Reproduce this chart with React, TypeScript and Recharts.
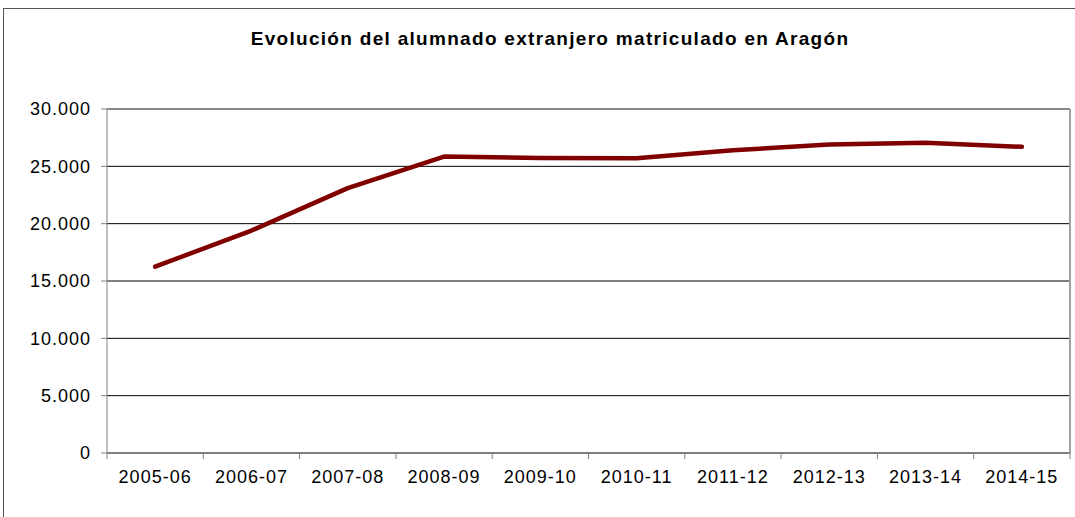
import React from 'react';
import {
  LineChart,
  Line,
  XAxis,
  YAxis,
  CartesianGrid,
  ReferenceLine,
} from 'recharts';

const CURSOS = ['2005-06', '2006-07', '2007-08', '2008-09', '2009-10', '2010-11', '2011-12', '2012-13', '2013-14', '2014-15'];
const ALUMNOS = [16250, 19400, 23100, 25850, 25730, 25700, 26400, 26900, 27050, 26700];
const Y_TICKS = [0, 5000, 10000, 15000, 20000, 25000, 30000];

const data = CURSOS.map((curso, i) => ({ pos: i + 0.5, curso, alumnos: ALUMNOS[i] }));
// ticks at category boundaries (marks) and at centres (labels), excel style
const xTicks: number[] = [];
for (let i = 0; i <= CURSOS.length; i++) {
  xTicks.push(i);
  if (i < CURSOS.length) xTicks.push(i + 0.5);
}

const FONT = '"Liberation Sans", Arial, sans-serif';
const tickStyle = { fontFamily: FONT, fontSize: 18, fill: '#000', letterSpacing: 1 };

const fmtMiles = (v: number) => v.toLocaleString('de-DE');

const XTick = (props: any) => {
  const { x, y, payload } = props;
  const v = payload.value as number;
  if (Number.isInteger(v)) {
    return <line x1={x} x2={x} y1={y} y2={y + 6} stroke="#808080" />;
  }
  return (
    <text x={x} y={y + 30} textAnchor="middle" style={tickStyle}>
      {CURSOS[Math.round(v - 0.5)]}
    </text>
  );
};

export default function App() {
  return (
    <div style={{ position: 'absolute', left: 0, top: 0, width: 1075, height: 517, background: '#fff', overflow: 'hidden' }}>
      <div
        style={{
          position: 'absolute',
          left: 3,
          top: 8,
          width: 1100,
          height: 600,
          border: '1px solid #555',
          boxSizing: 'border-box',
        }}
      />
      <div
        style={{
          position: 'absolute',
          left: 0,
          top: 28,
          width: 1100,
          textAlign: 'center',
          fontFamily: FONT,
          fontWeight: 'bold',
          fontSize: 19,
          letterSpacing: 1.3,
          color: '#000',
        }}
      >
        Evolución del alumnado extranjero matriculado en Aragón
      </div>
      <div style={{ position: 'absolute', left: 0, top: 0 }}>
        <LineChart width={1075} height={517} data={data} margin={{ top: 109, right: 5, left: 0, bottom: 0 }}>
          <CartesianGrid horizontal vertical={false} stroke="#000" strokeWidth={1} />
          <XAxis
            type="number"
            dataKey="pos"
            domain={[0, CURSOS.length]}
            ticks={xTicks}
            tick={<XTick />}
            tickLine={false}
            tickSize={0}
            tickMargin={0}
            height={64}
            stroke="#808080"
            interval={0}
          />
          <YAxis
            type="number"
            domain={[0, 30000]}
            ticks={Y_TICKS}
            tickFormatter={fmtMiles}
            width={107}
            tickSize={6}
            stroke="#808080"
            tickLine={{ stroke: '#808080' }}
            tick={{ ...tickStyle, dx: -8 }}
            interval={0}
          />
          <ReferenceLine x={CURSOS.length} stroke="#a0a0a0" strokeWidth={2} />
          <ReferenceLine y={30000} stroke="#909090" strokeWidth={1} />
          <Line
            type="linear"
            dataKey="alumnos"
            stroke="#800000"
            strokeWidth={4.5}
            strokeLinecap="round"
            strokeLinejoin="round"
            dot={false}
            activeDot={false}
            isAnimationActive={false}
          />
        </LineChart>
      </div>
    </div>
  );
}
